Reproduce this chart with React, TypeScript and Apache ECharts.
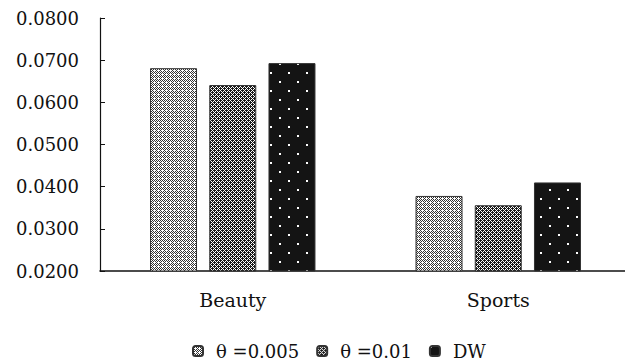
import React, { useEffect, useRef } from "react";
import * as echarts from "echarts";

const categories = ["Beauty", "Sports"];
const seriesNames = ["θ =0.005", "θ =0.01", "DW"];
const theta005 = [0.0681, 0.0378];
const theta01 = [0.0641, 0.0356];
const dw = [0.0693, 0.041];
const yTicks = { min: 0.02, max: 0.08, interval: 0.01 };

function makePattern(size: number, bg: string, fg: string, cells: [number, number, number][]) {
  const c = document.createElement("canvas");
  c.width = size;
  c.height = size;
  const ctx = c.getContext("2d")!;
  ctx.fillStyle = bg;
  ctx.fillRect(0, 0, size, size);
  ctx.fillStyle = fg;
  for (const [x, y, s] of cells) ctx.fillRect(x, y, s, s);
  return { image: c, repeat: "repeat" } as any;
}

function gridCells(rows: string[]): [number, number, number][] {
  const out: [number, number, number][] = [];
  rows.forEach((r, y) => {
    for (let x = 0; x < r.length; x++) if (r[x] === "1") out.push([x, y, 1]);
  });
  return out;
}

export default function App() {
  const ref = useRef<HTMLDivElement>(null);
  useEffect(() => {
    if (!ref.current) return;
    const chart = echarts.init(ref.current, undefined, { renderer: "svg" });
    const p1 = makePattern(4, "#ffffff", "#333333", gridCells(["1010", "0101", "1000", "0101"]));
    const p2 = makePattern(4, "#ffffff", "#1a1a1a", gridCells(["1101", "1010", "0111", "1010"]));
    const p3 = makePattern(18, "#141414", "#ffffff", [
      [0, 0, 2],
      [9, 9, 2],
    ]);
    const font = "DejaVu Serif";
    const values = [theta005, theta01, dw];
    const patterns = [p1, p2, p3];
    chart.setOption({
      animation: false,
      backgroundColor: "#ffffff",
      textStyle: { fontFamily: font },
      grid: { left: 100, right: -6, top: 18, bottom: 93, outerBoundsMode: "none", containLabel: false },
      legend: {
        top: 337,
        left: 187,
        itemWidth: 10,
        itemHeight: 10,
        itemGap: 17,
        textStyle: { fontFamily: font, fontSize: 18, color: "#111", padding: [0, 0, 0, 8] },
        data: seriesNames,
      },
      xAxis: {
        type: "category",
        data: categories,
        axisLine: { lineStyle: { color: "#111", width: 1.5 } },
        axisTick: { show: false },
        axisLabel: { fontFamily: font, fontSize: 19, color: "#111", margin: 19 },
      },
      yAxis: {
        type: "value",
        min: yTicks.min,
        max: yTicks.max,
        interval: yTicks.interval,
        axisLine: { show: true, lineStyle: { color: "#111", width: 1.2 } },
        axisTick: { show: true, inside: true, length: 5, lineStyle: { color: "#111" } },
        splitLine: { show: false },
        axisLabel: {
          fontFamily: font,
          fontSize: 18,
          color: "#111",
          margin: 21,
          formatter: (v: number) => v.toFixed(4),
        },
      },
      series: seriesNames.map((name, i) => ({
        name,
        type: "bar",
        data: values[i],
        barWidth: 47,
        barGap: "26%",
        itemStyle: { color: patterns[i], borderColor: "#333", borderWidth: 1 },
      })),
    });
    return () => chart.dispose();
  }, []);
  return <div ref={ref} style={{ width: 625, height: 364, position: "absolute", left: 0, top: 0 }} />;
}
